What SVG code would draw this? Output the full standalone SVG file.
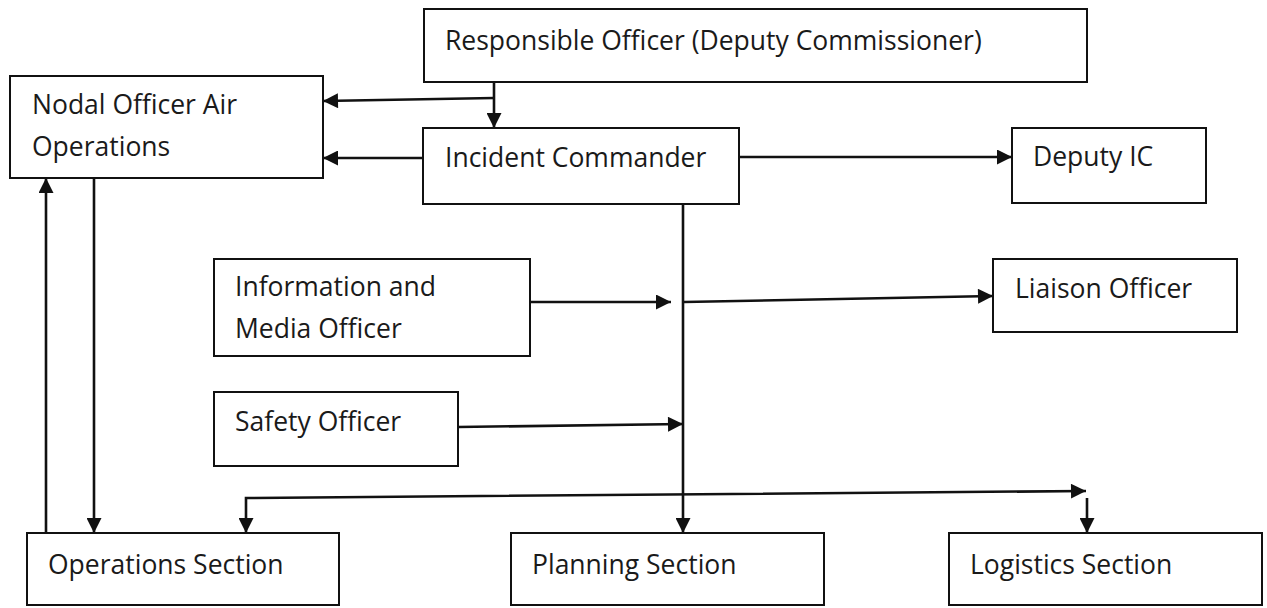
<svg xmlns="http://www.w3.org/2000/svg" width="1267" height="608" viewBox="0 0 1267 608">
<style>
.box{fill:#fff;stroke:#111;stroke-width:2}
.lbl{font-family:"Open Sans","Liberation Sans",sans-serif;font-size:26.5px;fill:#1a1a1a}
.con{fill:none;stroke:#111;stroke-width:2.6}
</style>
<defs>
<marker id="ah" viewBox="0 0 10 10" refX="10" refY="5" markerWidth="17" markerHeight="15" markerUnits="userSpaceOnUse" orient="auto-start-reverse">
<path d="M0,0 L10,5 L0,10 z" fill="#111"/>
</marker>
</defs>
<rect width="1267" height="608" fill="#fff"/>
<g id="connectors">
<path class="con" d="M494,77 L494,128" marker-end="url(#ah)"/>
<path class="con" d="M494,98 L323,101" marker-end="url(#ah)"/>
<path class="con" d="M423,158 L323,158" marker-end="url(#ah)"/>
<path class="con" d="M739,157 L1012,157" marker-end="url(#ah)"/>
<path class="con" d="M683,204 L683,533" marker-end="url(#ah)"/>
<path class="con" d="M530,302 L671,302" marker-end="url(#ah)"/>
<path class="con" d="M684,302 L993,296" marker-end="url(#ah)"/>
<path class="con" d="M458,427 L683,424" marker-end="url(#ah)"/>
<path class="con" d="M246,533 L246,498 L1086,491" marker-start="url(#ah)" marker-end="url(#ah)"/>
<path class="con" d="M1087,498 L1087,533" marker-end="url(#ah)"/>
<path class="con" d="M94,178 L94,533" marker-end="url(#ah)"/>
<path class="con" d="M46,533 L46,178" marker-end="url(#ah)"/>
</g>
<g id="responsible-officer">
<rect class="box" x="424" y="9" width="663" height="73"/>
<text class="lbl" x="445" y="50">Responsible Officer (Deputy Commissioner)</text>
</g>
<g id="nodal-officer">
<rect class="box" x="10" y="76" width="313" height="102"/>
<text class="lbl" x="32" y="114">Nodal Officer Air</text>
<text class="lbl" x="32" y="156">Operations</text>
</g>
<g id="incident-commander">
<rect class="box" x="423" y="128" width="316" height="76"/>
<text class="lbl" x="445" y="167">Incident Commander</text>
</g>
<g id="deputy-ic">
<rect class="box" x="1012" y="128" width="194" height="75"/>
<text class="lbl" x="1033" y="166">Deputy IC</text>
</g>
<g id="information-media-officer">
<rect class="box" x="214" y="259" width="316" height="97"/>
<text class="lbl" x="235" y="296">Information and</text>
<text class="lbl" x="235" y="338">Media Officer</text>
</g>
<g id="liaison-officer">
<rect class="box" x="993" y="259" width="244" height="73"/>
<text class="lbl" x="1015" y="298">Liaison Officer</text>
</g>
<g id="safety-officer">
<rect class="box" x="214" y="392" width="244" height="74"/>
<text class="lbl" x="235" y="431">Safety Officer</text>
</g>
<g id="operations-section">
<rect class="box" x="27" y="533" width="312" height="72"/>
<text class="lbl" x="48" y="574">Operations Section</text>
</g>
<g id="planning-section">
<rect class="box" x="511" y="533" width="313" height="72"/>
<text class="lbl" x="532" y="574">Planning Section</text>
</g>
<g id="logistics-section">
<rect class="box" x="949" y="533" width="313" height="72"/>
<text class="lbl" x="970" y="574">Logistics Section</text>
</g>
</svg>
